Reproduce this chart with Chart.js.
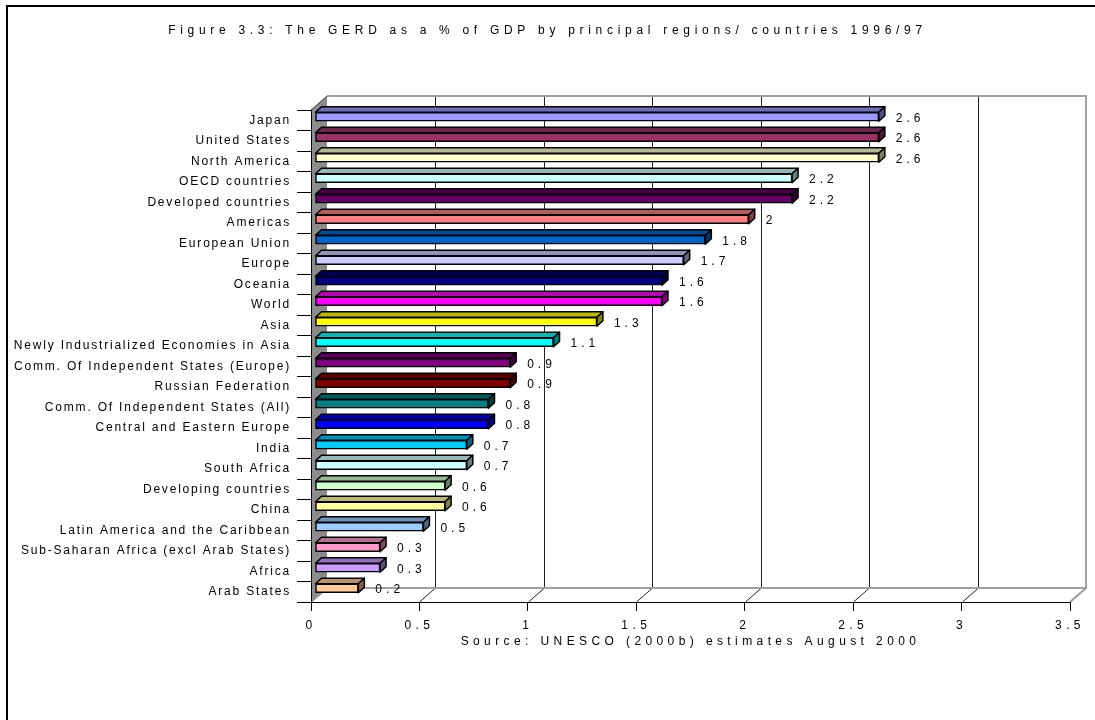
<!DOCTYPE html>
<html>
<head>
<meta charset="utf-8">
<script src="https://cdn.jsdelivr.net/npm/chart.js@4/dist/chart.umd.min.js"></script>
<style>
  html, body { margin: 0; padding: 0; background: #fff; }
  #c { display: block; }
</style>
</head>
<body>
<canvas id="c" width="1095" height="720"></canvas>
<script>
// GERD as a percentage of GDP, 1996/97
const regions = [
  'Japan', 'United States', 'North America', 'OECD countries', 'Developed countries',
  'Americas', 'European Union', 'Europe', 'Oceania', 'World', 'Asia',
  'Newly Industrialized Economies in Asia', 'Comm. Of Independent States (Europe)',
  'Russian Federation', 'Comm. Of Independent States (All)', 'Central and Eastern Europe',
  'India', 'South Africa', 'Developing countries', 'China',
  'Latin America and the Caribbean', 'Sub-Saharan Africa (excl Arab States)',
  'Africa', 'Arab States'
];
const gerdPct = [
  2.6, 2.6, 2.6, 2.2, 2.2, 2, 1.8, 1.7, 1.6, 1.6, 1.3,
  1.1, 0.9, 0.9, 0.8, 0.8, 0.7, 0.7, 0.6, 0.6, 0.5, 0.3, 0.3, 0.2
];
const barColours = [
  '#9999FF', '#993366', '#FFFFCC', '#CCFFFF', '#660066', '#FF8080', '#0066CC', '#CCCCFF',
  '#000080', '#FF00FF', '#FFFF00', '#00FFFF', '#800080', '#800000', '#008080', '#0000FF',
  '#00CCFF', '#CCFFFF', '#CCFFCC', '#FFFF99', '#99CCFF', '#FF99CC', '#CC99FF', '#FFCC99'
];
const axisMin = 0;
const axisMax = 3.5;
const axisStep = 0.5;
const chartTitle = 'Figure 3.3: The GERD as a % of GDP by principal regions/ countries 1996/97';
const sourceNote = 'Source: UNESCO (2000b) estimates August 2000';

const FONT = '"Liberation Sans", Arial, sans-serif';

// 3-D geometry: offset from the front plane to the back wall, bar placement in depth
const WALL_DX = 16, WALL_DY = -14;
const BAR_DX = 4, BAR_DY = -3.5;
const FACE_DX = 6, FACE_DY = -5.5;

function shade(hex, f) {
  const n = parseInt(hex.slice(1), 16);
  const r = (n >> 16) & 255, g = (n >> 8) & 255, b = n & 255;
  return 'rgb(' + Math.round(r * f) + ',' + Math.round(g * f) + ',' + Math.round(b * f) + ')';
}

function withSpacing(obj, method, spacing) {
  const orig = obj[method];
  obj[method] = function () {
    const ctx = this.ctx;
    const prev = ctx.letterSpacing;
    ctx.letterSpacing = spacing;
    const r = orig.apply(this, arguments);
    ctx.letterSpacing = prev;
    return r;
  };
}

const spaced = new WeakSet();

const frame3d = {
  id: 'frame3d',
  beforeDraw(chart) {
    // letter-spaced text for axes and title
    if (!spaced.has(chart.scales.x)) {
      withSpacing(chart.scales.x, 'drawLabels', '4.4px');
      withSpacing(chart.scales.x, 'drawTitle', '4.4px');
      spaced.add(chart.scales.x);
    }
    if (!spaced.has(chart.scales.y)) {
      withSpacing(chart.scales.y, 'drawLabels', '1.8px');
      spaced.add(chart.scales.y);
    }
    if (chart.titleBlock && !spaced.has(chart.titleBlock)) {
      withSpacing(chart.titleBlock, 'draw', '4.7px');
      spaced.add(chart.titleBlock);
    }

    const ctx = chart.ctx;
    const a = chart.chartArea;
    const xs = chart.scales.x;
    const bl = a.left + WALL_DX, br = a.right + WALL_DX;
    const bt = a.top + WALL_DY, bb = a.bottom + WALL_DY;

    ctx.save();
    // outer frame
    ctx.strokeStyle = '#000';
    ctx.lineWidth = 2;
    ctx.strokeRect(7, 6, 1300, 1300);

    // back wall
    ctx.fillStyle = '#fff';
    ctx.fillRect(bl, bt, br - bl, bb - bt);

    // back-wall gridlines and floor diagonals at each value tick
    ctx.strokeStyle = '#222';
    ctx.lineWidth = 1;
    xs.ticks.forEach(t => {
      const px = Math.round(xs.getPixelForValue(t.value)) + 0.5;
      ctx.beginPath();
      ctx.moveTo(px, a.bottom);
      ctx.lineTo(px + WALL_DX, bb);
      if (t.value > axisMin && t.value < axisMax) {
        ctx.lineTo(px + WALL_DX, bt);
      }
      ctx.stroke();
    });

    // back wall and floor edges
    ctx.strokeStyle = '#a0a0a0';
    ctx.lineWidth = 2;
    ctx.beginPath();
    ctx.moveTo(bl, bt);
    ctx.lineTo(br, bt);
    ctx.lineTo(br, bb);
    ctx.lineTo(a.right, a.bottom);
    ctx.moveTo(bl, bb);
    ctx.lineTo(br, bb);
    ctx.stroke();

    // left side wall
    ctx.fillStyle = '#8c8c8c';
    ctx.beginPath();
    ctx.moveTo(a.left, a.top);
    ctx.lineTo(bl, bt);
    ctx.lineTo(bl, bb);
    ctx.lineTo(a.left, a.bottom);
    ctx.closePath();
    ctx.fill();
    ctx.strokeStyle = '#404040';
    ctx.lineWidth = 1;
    ctx.beginPath();
    ctx.moveTo(a.left, a.top);
    ctx.lineTo(bl, bt);
    ctx.stroke();
    ctx.strokeStyle = '#b0b0b0';
    ctx.beginPath();
    ctx.moveTo(a.left, a.bottom);
    ctx.lineTo(bl, bb);
    ctx.stroke();
    ctx.restore();
  },
  beforeDatasetsDraw(chart) {
    chart.ctx.save();
    chart.ctx.translate(BAR_DX, BAR_DY);
  },
  afterDatasetsDraw(chart) {
    const ctx = chart.ctx;
    const meta = chart.getDatasetMeta(0);
    ctx.lineJoin = 'round';
    meta.data.forEach((el, i) => {
      const p = el.getProps(['x', 'y', 'base', 'height'], true);
      const top = p.y - p.height / 2, bot = p.y + p.height / 2;
      const c = barColours[i];
      ctx.strokeStyle = '#000';
      ctx.lineWidth = 1.5;
      // top face
      ctx.beginPath();
      ctx.moveTo(p.base, top);
      ctx.lineTo(p.x, top);
      ctx.lineTo(p.x + FACE_DX, top + FACE_DY);
      ctx.lineTo(p.base + FACE_DX, top + FACE_DY);
      ctx.closePath();
      ctx.fillStyle = shade(c, 0.72);
      ctx.fill();
      ctx.stroke();
      // end face
      ctx.beginPath();
      ctx.moveTo(p.x, top);
      ctx.lineTo(p.x + FACE_DX, top + FACE_DY);
      ctx.lineTo(p.x + FACE_DX, bot + FACE_DY);
      ctx.lineTo(p.x, bot);
      ctx.closePath();
      ctx.fillStyle = shade(c, 0.5);
      ctx.fill();
      ctx.stroke();
    });
    // value labels
    ctx.fillStyle = '#000';
    ctx.font = '12px ' + FONT;
    ctx.letterSpacing = '4px';
    ctx.textAlign = 'left';
    ctx.textBaseline = 'middle';
    meta.data.forEach((el, i) => {
      const p = el.getProps(['x', 'y'], true);
      ctx.fillText(String(gerdPct[i]), p.x + FACE_DX + 11, p.y + 1.5);
    });
    ctx.letterSpacing = '0px';
    ctx.restore();
  }
};

new Chart(document.getElementById('c'), {
  type: 'bar',
  data: {
    labels: regions,
    datasets: [{
      data: gerdPct,
      backgroundColor: barColours,
      borderColor: '#000',
      borderWidth: 1.5,
      borderSkipped: false,
      barThickness: 9,
      clip: false
    }]
  },
  options: {
    indexAxis: 'y',
    responsive: false,
    animation: false,
    devicePixelRatio: 1,
    layout: { padding: { top: 0, left: 0, right: 0, bottom: 68 } },
    plugins: {
      legend: { display: false },
      tooltip: { enabled: false },
      title: {
        display: true,
        text: chartTitle,
        color: '#000',
        font: { family: FONT, size: 12, weight: 'normal', lineHeight: 1.2 },
        padding: { top: 23.5, bottom: 72.1 }
      }
    },
    scales: {
      x: {
        type: 'linear',
        min: axisMin,
        max: axisMax,
        ticks: {
          stepSize: axisStep,
          color: '#000',
          font: { family: FONT, size: 12, lineHeight: 1.2 },
          padding: 7,
          callback: (v) => String(Number(v.toFixed(1)))
        },
        grid: { drawOnChartArea: false, drawTicks: true, tickLength: 9, color: '#000', lineWidth: 1 },
        border: { display: true, color: '#000', width: 1 },
        title: {
          display: true,
          text: sourceNote,
          color: '#000',
          font: { family: FONT, size: 12, lineHeight: 1.2 },
          padding: { top: 2, bottom: 3 }
        },
        afterFit(scale) {
          scale.height = 50;
          scale.paddingRight = 25;
        }
      },
      y: {
        ticks: {
          color: '#000',
          font: { family: FONT, size: 12, lineHeight: 1.2 },
          padding: 6,
          autoSkip: false
        },
        grid: { drawOnChartArea: false, drawTicks: true, tickLength: 14, color: '#000', lineWidth: 1 },
        border: { display: true, color: '#000', width: 1 },
        afterFit(scale) { scale.width = 311; }
      }
    }
  },
  plugins: [frame3d]
});
</script>
</body>
</html>
